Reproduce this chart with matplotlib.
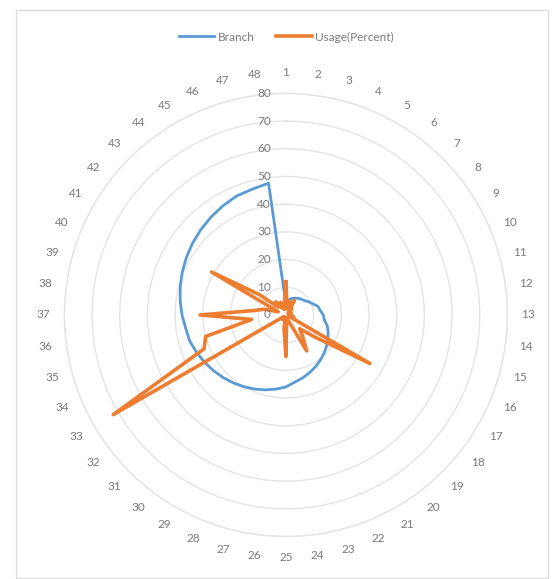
import matplotlib
matplotlib.use('Agg')
import matplotlib.pyplot as plt
from matplotlib.patches import Rectangle
from matplotlib.transforms import offset_copy
import numpy as np

plt.rcParams['font.family'] = ['Lato', 'DejaVu Sans']

# 48 categories, two series
categories = [str(i) for i in range(1, 49)]
branch = [4, 5, 6, 6.5, 7, 7.5, 8, 8.5, 9.5, 10.5, 12, 12.5, 13.5, 14, 15.5, 16.5,
          17.5, 18.5, 19.5, 20.5, 21.5, 22.5, 23.5, 24.5, 26, 27, 28, 29, 30, 31, 32, 33,
          34, 35, 36, 36.5, 37.5, 38.5, 39.5, 40.5, 41.5, 42.5, 43.5, 44.5, 45.5, 46.5, 47, 48]
usage = [12, 3, 5, 2, 6, 2, 3, 1, 2, 1, 2, 1, 2, 1, 3, 1,
         35, 13, 7, 10, 15, 2, 1, 2, 15, 5, 1, 2, 1, 2, 1, 1,
         72, 32, 30, 12.5, 31, 12, 8, 3, 31, 12, 4, 6, 3, 5, 2, 4]
rticks = [0, 10, 20, 30, 40, 50, 60, 70, 80]

BLUE = '#5B9BD5'
ORANGE = '#ED7D31'
GRID = '#E4E4E4'
TEXT = '#7A7A7A'

fig = plt.figure(figsize=(5.56, 5.79), dpi=100)
fig.patches.append(Rectangle((16 / 556, 1 - 578 / 579), 532 / 556, 568 / 579,
                             transform=fig.transFigure, fill=False,
                             edgecolor='#DDDDDD', linewidth=1))

ax = fig.add_axes([0.1157, 0.0733, 0.797, 0.7655], projection='polar')
ax.set_theta_zero_location('N')
ax.set_theta_direction(-1)
ax.set_ylim(0, 80)

theta = np.arange(len(categories)) * 2 * np.pi / len(categories)
th = np.append(theta, theta[0])

ax.plot(th, branch + branch[:1], color=BLUE, lw=2, label='Branch')
ax.plot(th, usage + usage[:1], color=ORANGE, lw=2.6, label='Usage(Percent)')

# circular gridlines only
ax.set_xticks([])
ax.set_yticks(rticks[1:])
ax.set_yticklabels([])
ax.yaxis.grid(True, color=GRID, lw=1)
ax.xaxis.grid(False)
ax.spines['polar'].set_color(GRID)
ax.spines['polar'].set_linewidth(1)

# value axis labels, left of the vertical axis
tr = offset_copy(ax.transData, fig=fig, x=-15, y=0, units='dots')
for r in rticks:
    ax.text(0, r, str(r), transform=tr, ha='right', va='center',
            fontsize=8.5, color=TEXT)

# category labels around the outside
for t, lab in zip(theta, categories):
    ax.text(t, 87.5, lab, ha='center', va='center', fontsize=8.5, color=TEXT)

fig.legend(loc='center', bbox_to_anchor=(0.515, 1 - 37 / 579), ncol=2,
           frameon=False, fontsize=8.5, labelcolor=TEXT, handlelength=3,
           columnspacing=1.8, handletextpad=0.3)

fig.savefig('out.png', dpi=100, facecolor='white')
